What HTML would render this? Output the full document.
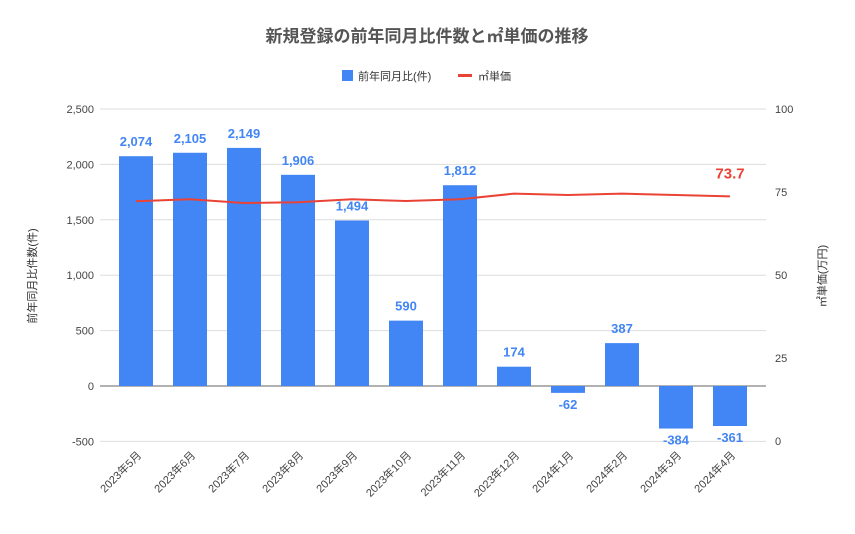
<!DOCTYPE html>
<html><head><meta charset="utf-8"><style>
body{margin:0;background:#fff;font-family:"Liberation Sans","Noto Sans CJK JP",sans-serif}
</style></head><body>
<svg id="c" width="855" height="529" xmlns="http://www.w3.org/2000/svg" font-family="Liberation Sans, Noto Sans CJK JP, sans-serif">
<text x="427" y="42" text-anchor="middle" font-size="17" font-weight="bold" fill="#555">新規登録の前年同月比件数と㎡単価の推移</text>
<g>
<rect x="342" y="70" width="11" height="11" fill="#4285f4"/>
<text x="358" y="80" font-size="11" fill="#333">前年同月比(件)</text>
<rect x="458" y="74" width="14" height="3" fill="#ea4335"/>
<text x="478" y="80" font-size="11" fill="#333">㎡単価</text>
</g>
<text transform="translate(36,276) rotate(-90)" text-anchor="middle" font-size="11" fill="#333">前年同月比件数(件)</text>
<text transform="translate(826,276) rotate(-90)" text-anchor="middle" font-size="11" fill="#333">㎡単価(万円)</text>
<g id="grid"></g><g id="bars"></g><g id="line"></g><g id="labels"></g>
</svg>
<script>
const categories=["2023年5月","2023年6月","2023年7月","2023年8月","2023年9月","2023年10月","2023年11月","2023年12月","2024年1月","2024年2月","2024年3月","2024年4月"];
const counts=[2074,2105,2149,1906,1494,590,1812,174,-62,387,-384,-361];
const prices=[72.2,72.8,71.7,71.9,72.8,72.3,72.8,74.5,74.1,74.5,74.1,73.7];
const leftTicks=[-500,0,500,1000,1500,2000,2500];
const rightTicks=[0,25,50,75,100];
const NS="http://www.w3.org/2000/svg";
const yL=v=>386-(v/2500)*277;
const yR=v=>441-(v/100)*332;
const xC=i=>136+i*54;
function mk(t,a,p,txt){const e=document.createElementNS(NS,t);for(const k in a)e.setAttribute(k,a[k]);if(txt!==undefined)e.textContent=txt;document.getElementById(p).appendChild(e);return e;}
leftTicks.forEach(v=>{
 const g=mk('line',{x1:100,x2:766,y1:yL(v),y2:yL(v),stroke:v===0?'#666':'#ddd','stroke-width':1},'grid');
 
 const t=mk('text',{x:94,y:yL(v)+4,'text-anchor':'end','font-size':11,fill:'#444'},'grid',v.toLocaleString('en-US'));
 
});
rightTicks.forEach(v=>{
 const t=mk('text',{x:775,y:yR(v)+4,'font-size':11,fill:'#444'},'grid',String(v));
 
});
categories.forEach((c,i)=>{
 const v=counts[i],y0=yL(0),y1=yL(v);
 const b=mk('rect',{x:xC(i)-17,y:Math.min(y0,y1),width:34,height:Math.abs(y1-y0),fill:'#4285f4'},'bars');
 
 const ly=v>=0?y1-10:y1+16;
 const l=mk('text',{x:xC(i),y:ly,'text-anchor':'middle','font-size':13,'font-weight':'bold',fill:'#4285f4'},'labels',v.toLocaleString('en-US'));
 
 const x=xC(i),yy=456;
 const t=mk('text',{transform:`translate(${x+6},${yy}) rotate(-45)`,'text-anchor':'end','font-size':11,fill:'#444'},'labels',c);
 
});
const p=mk('polyline',{points:prices.map((v,i)=>xC(i)+','+yR(v)).join(' '),fill:'none',stroke:'#ea4335','stroke-width':2},'line');

const last=prices.length-1;
const pl=mk('text',{x:xC(last),y:yR(prices[last])-18,'text-anchor':'middle','font-size':15,'font-weight':'bold',fill:'#ea4335'},'labels',String(prices[last]));

</script>
</body></html>
